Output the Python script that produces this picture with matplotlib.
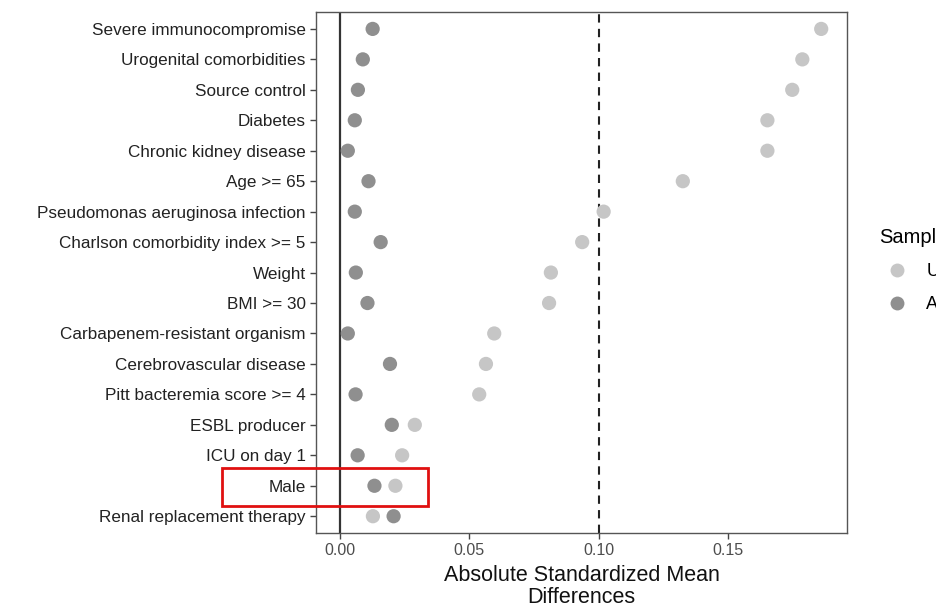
import matplotlib.pyplot as plt
import matplotlib.patches as patches
from matplotlib.lines import Line2D

plt.rcParams['font.family'] = ['Liberation Sans', 'DejaVu Sans']

# Covariates, top to bottom
covariates = ["Severe immunocompromise", "Urogenital comorbidities", "Source control",
              "Diabetes", "Chronic kidney disease", "Age >= 65",
              "Pseudomonas aeruginosa infection", "Charlson comorbidity index >= 5",
              "Weight", "BMI >= 30", "Carbapenem-resistant organism",
              "Cerebrovascular disease", "Pitt bacteremia score >= 4", "ESBL producer",
              "ICU on day 1", "Male", "Renal replacement therapy"]

# Absolute standardized mean differences
unadjusted = [0.186, 0.1787, 0.1748, 0.1652, 0.1652, 0.1325, 0.1019, 0.0936,
              0.0815, 0.0808, 0.0596, 0.0564, 0.0538, 0.0289, 0.0240, 0.0214, 0.0127]
adjusted = [0.0126, 0.0088, 0.0069, 0.0057, 0.0030, 0.0110, 0.0057, 0.0157,
            0.0061, 0.0106, 0.0030, 0.0193, 0.0060, 0.0200, 0.0068, 0.0133, 0.0207]

col_unadj = "#c6c6c6"
col_adj = "#8f8f8f"

fig = plt.figure(figsize=(9.36, 6.08), dpi=100)
ax = fig.add_axes([0.3376, 0.1234, 0.5674, 0.8566])

ypos = list(range(len(covariates)))[::-1]

ax.axvline(0, color="#333333", lw=1.6, zorder=1)
ax.axvline(0.10, color="#222222", lw=1.5, ls=(0, (4, 3)), zorder=1)

ax.scatter(unadjusted, ypos, s=105, color=col_unadj, edgecolors="none", zorder=3)
ax.scatter(adjusted, ypos, s=105, color=col_adj, edgecolors="none", zorder=3)

ax.set_xlim(-0.0093, 0.196)
ax.set_ylim(-0.55, len(covariates) - 0.45)
ax.set_yticks(ypos)
ax.set_yticklabels(covariates, fontsize=12.3, color="#222222")
ax.set_xticks([0.0, 0.05, 0.10, 0.15])
ax.set_xticklabels(["0.00", "0.05", "0.10", "0.15"], fontsize=11.5, color="#4d4d4d")
ax.tick_params(axis="both", direction="out", length=4, width=1, color="#444444")
for sp in ax.spines.values():
    sp.set_color("#555555")
    sp.set_linewidth(1.0)

ax.set_xlabel("Absolute Standardized Mean\nDifferences", fontsize=15.5, color="#111111",
              labelpad=5, linespacing=1.05)

handles = [Line2D([], [], marker="o", ls="none", ms=10, color=col_unadj, mec="none"),
           Line2D([], [], marker="o", ls="none", ms=10, color=col_adj, mec="none")]
leg = fig.legend(handles, ["Unadjusted", "Adjusted"], title="Sample",
                 loc="upper left", bbox_to_anchor=(0.922, 0.652), frameon=False,
                 fontsize=13, title_fontsize=14.5, handletextpad=0.6, labelspacing=0.9,
                 alignment="left")

# Red highlight box around "Male"
fig.patches.append(patches.Rectangle((222 / 936, 1 - 506 / 608), 206 / 936, 38 / 608,
                                     transform=fig.transFigure, fill=False,
                                     edgecolor="#e01010", lw=2, zorder=10))

fig.savefig("out.png", dpi=100)
